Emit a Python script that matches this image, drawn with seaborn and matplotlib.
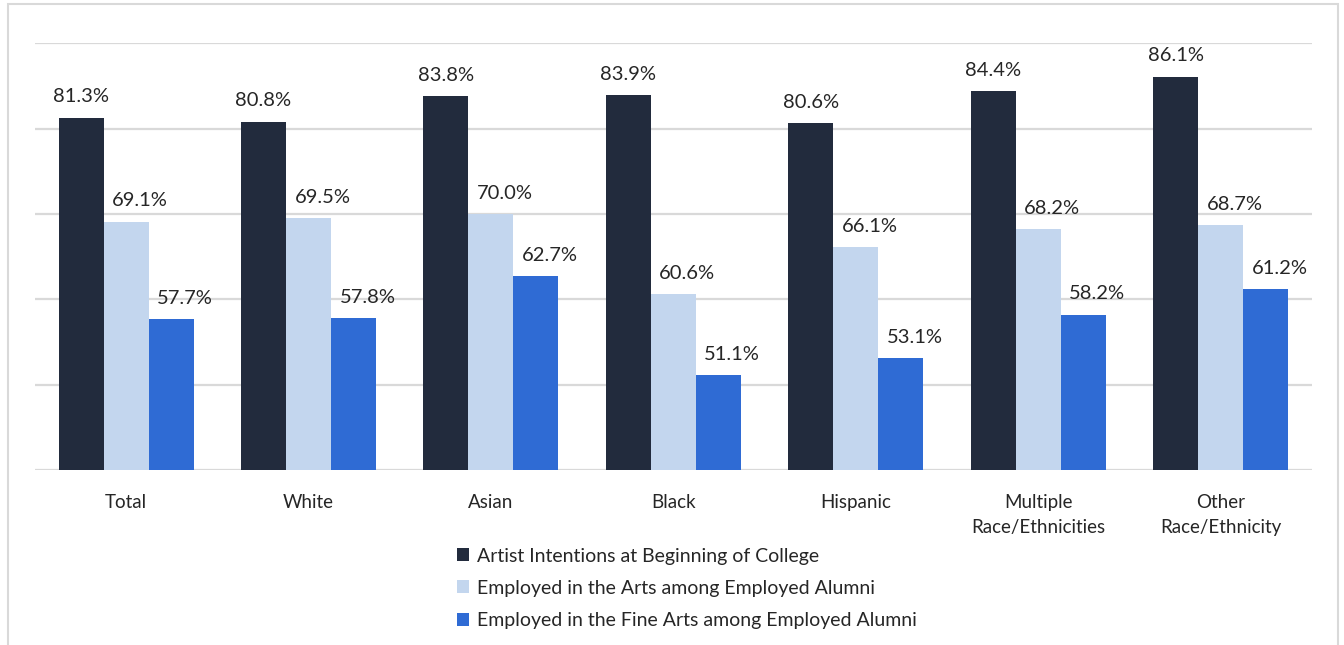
import matplotlib
matplotlib.use("Agg")
import matplotlib.pyplot as plt
from matplotlib.patches import Rectangle
import pandas as pd
import seaborn as sns

groups = ["Total", "White", "Asian", "Black", "Hispanic",
          "Multiple\nRace/Ethnicities", "Other\nRace/Ethnicity"]
series = ["Artist Intentions at Beginning of College",
          "Employed in the Arts among Employed Alumni",
          "Employed in the Fine Arts among Employed Alumni"]
artist_intent = [81.3, 80.8, 83.8, 83.9, 80.6, 84.4, 86.1]
employed_arts = [69.1, 69.5, 70.0, 60.6, 66.1, 68.2, 68.7]
employed_fine = [57.7, 57.8, 62.7, 51.1, 53.1, 58.2, 61.2]
colors = ["#222B3D", "#C3D6EE", "#2F6BD4"]

df = pd.DataFrame({
    "group": groups * 3,
    "series": [s for s in series for _ in groups],
    "value": artist_intent + employed_arts + employed_fine,
})

sns.set_style("white")
plt.rcParams["font.family"] = ["Lato", "DejaVu Sans"]

fig = plt.figure(figsize=(13.44, 6.45), dpi=100)
ax = fig.add_axes([0.026, 0.271, 0.950, 0.662])

sns.barplot(data=df, x="group", y="value", hue="series", order=groups,
            hue_order=series, palette=colors, width=0.74, saturation=1,
            linewidth=0, ax=ax, legend=True)

# labels: first series centred, the other two sit a bit to the right (as in the original)
for i, c in enumerate(ax.containers):
    texts = ax.bar_label(c, fmt="%.1f%%", padding=9, fontsize=14.5, color="#262626")
    if i > 0:
        for t in texts:
            t.xyann = (10, 9)

ax.set_ylim(40, 90)
ax.set_yticks([40, 50, 60, 70, 80, 90])
ax.set_yticklabels([])
ax.yaxis.grid(True, color="#D9D9D9", linewidth=1.6)
ax.set_axisbelow(True)
ax.tick_params(axis="x", length=0, pad=17, labelsize=13.5, labelcolor="#262626")
for t in ax.get_xticklabels():
    t.set_linespacing(1.55)
ax.tick_params(axis="y", length=0)
ax.set_xlabel("")
ax.set_ylabel("")
sns.despine(ax=ax, left=True, bottom=True, top=True, right=True)

handles, labels = ax.get_legend_handles_labels()
ax.get_legend().remove()
fig.legend(handles, labels, loc="upper left", bbox_to_anchor=(0.334, 0.163),
           frameon=False, fontsize=14, handlelength=0.65, handleheight=0.65,
           handletextpad=0.4, labelspacing=0.78, borderaxespad=0,
           labelcolor="#262626")

fig.patches.append(Rectangle((8 / 1344, -0.1), (1338 - 8) / 1344, 1.1 - 4 / 645,
                             transform=fig.transFigure, fill=False,
                             edgecolor="#D9D9D9", linewidth=1.5))

fig.savefig("out.png", dpi=100)
